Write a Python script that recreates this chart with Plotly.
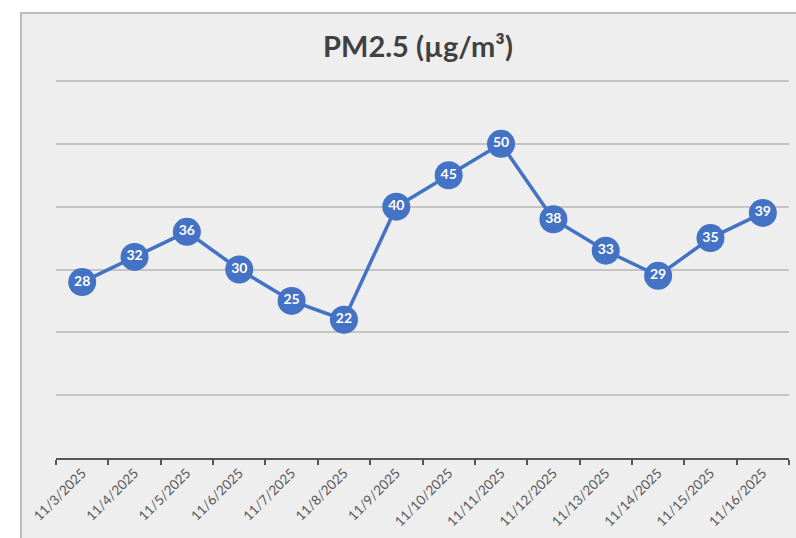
import plotly.graph_objects as go

dates = ["11/3/2025", "11/4/2025", "11/5/2025", "11/6/2025", "11/7/2025", "11/8/2025",
         "11/9/2025", "11/10/2025", "11/11/2025", "11/12/2025", "11/13/2025",
         "11/14/2025", "11/15/2025", "11/16/2025"]
pm25 = [28, 32, 36, 30, 25, 22, 40, 45, 50, 38, 33, 29, 35, 39]

W, H = 796, 538
L, R, T, B = 56, 7, 78, 80
pw, ph = W - L - R, H - T - B
YMAX = 60 * ph / 377.0

def px_x(x):
    return (x - L) / pw

def px_y(y):
    return (H - B - y) / ph

fig = go.Figure()
fig.add_trace(go.Scatter(
    x=dates, y=pm25, mode="lines+markers+text",
    line=dict(color="#4472C4", width=3.5),
    marker=dict(size=28, color="#4472C4", line=dict(width=0)),
    text=[str(v) for v in pm25], textposition="middle center",
    textfont=dict(color="white", size=14, family="Lato", weight="bold"),
    cliponaxis=False, hoverinfo="skip",
))

fig.update_layout(
    width=W, height=H,
    margin=dict(l=L, r=R, t=T, b=B, autoexpand=False),
    paper_bgcolor="white",
    plot_bgcolor="rgba(0,0,0,0)",
    showlegend=False,
    title=dict(text="<b>PM2.5 (µg/m³)</b>", x=418 / W, xanchor="center",
               y=1 - 47 / H, yanchor="middle", yref="container",
               font=dict(family="Lato", size=29, color="#404040")),
    shapes=[dict(type="rect", xref="paper", yref="paper", layer="below",
                 x0=px_x(21), x1=px_x(812), y0=px_y(560), y1=px_y(13),
                 fillcolor="#eeeeee", line=dict(color="#bdbdbd", width=2))],
)
fig.update_xaxes(
    type="category", range=[-0.5, 13.5], tickson="boundaries", automargin=False,
    ticks="outside", ticklen=5, tickwidth=2, tickcolor="#555555",
    showline=True, linecolor="#555555", linewidth=2,
    showgrid=False, tickangle=-45,
    tickfont=dict(family="Lato", size=13.5, color="#595959"),
)
fig.update_yaxes(
    range=[0, YMAX], dtick=10, showticklabels=False, showgrid=True, automargin=False,
    gridcolor="#c4c4c4", gridwidth=1.5, zeroline=False, showline=False,
)

fig.write_html("out.html", config={"displayModeBar": False},
               post_script="document.body.style.margin='0px';document.body.style.overflow='hidden';")
